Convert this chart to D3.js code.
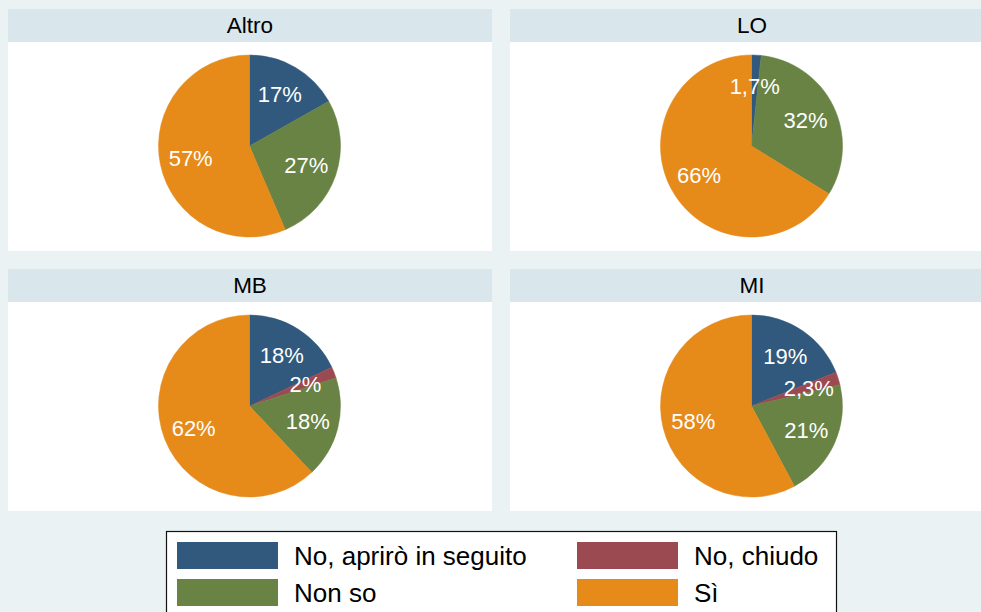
<!DOCTYPE html>
<html>
<head>
<meta charset="utf-8">
<script src="https://cdn.jsdelivr.net/npm/d3@7"></script>
<style>
  html, body { margin: 0; padding: 0; background: #EAF2F3; }
  svg { display: block; font-family: "Liberation Sans", Arial, Helvetica, sans-serif; }
</style>
</head>
<body>
<svg id="chart" width="981" height="612"></svg>
<script>
// Answer categories, in slice order (clockwise from 12 o'clock)
const categories = ["No, aprirò in seguito", "No, chiudo", "Non so", "Sì"];
const colors = ["#31597D", "#9C4A51", "#688344", "#E68A1A"];

// One panel per area
const panels = ["Altro", "LO", "MB", "MI"];

// Percentages per area, same order as categories
const altro = [17, 0, 27, 57];
const lo    = [1.7, 0, 32, 66];
const mb    = [18, 2, 18, 62];
const mi    = [19, 2.3, 21, 58];
const seriesValues = [altro, lo, mb, mi];

const W = 981, H = 612;
const svg = d3.select("#chart");

svg.append("rect").attr("width", W).attr("height", H).attr("fill", "#EAF2F3");

// Panel grid
const col = d3.scaleOrdinal().domain([0, 1]).range([8, 510]);
const row = d3.scaleOrdinal().domain([0, 1]).range([9, 269]);
const panelW = 484, stripH = 33, plotH = 209;
const radius = 91;

const color = d3.scaleOrdinal().domain(categories).range(colors);
const pie = d3.pie().sort(null).value(d => d.value).startAngle(0).endAngle(2 * Math.PI);
const arc = d3.arc().innerRadius(0).outerRadius(radius);
const labelArc = d3.arc().innerRadius(radius * 0.66).outerRadius(radius * 0.66);
const fmt = v => String(v).replace(".", ",") + "%";

panels.forEach((name, i) => {
  const x0 = col(i % 2), y0 = row(Math.floor(i / 2));
  const g = svg.append("g").attr("transform", `translate(${x0},${y0})`);

  // title strip
  g.append("rect").attr("width", panelW).attr("height", stripH).attr("fill", "#D9E6EB");
  g.append("text")
    .attr("x", panelW / 2).attr("y", 24)
    .attr("text-anchor", "middle")
    .attr("font-size", 22.5).attr("fill", "#000")
    .text(name);

  // plot area
  g.append("rect").attr("y", stripH).attr("width", panelW).attr("height", plotH).attr("fill", "#FFFFFF");

  const data = categories.map((c, k) => ({ cat: c, value: seriesValues[i][k] }));
  const arcs = pie(data);
  const pg = g.append("g").attr("transform", `translate(${panelW / 2 - 0.5},${stripH + 104})`);

  pg.selectAll("path").data(arcs.filter(a => a.data.value > 0)).join("path")
    .attr("d", arc)
    .attr("fill", d => color(d.data.cat))
    .attr("stroke", d => color(d.data.cat))
    .attr("stroke-width", 0.5);

  pg.selectAll("text").data(arcs.filter(a => a.data.value > 0)).join("text")
    .attr("transform", d => `translate(${labelArc.centroid(d)})`)
    .attr("text-anchor", "middle")
    .attr("dy", "0.36em")
    .attr("font-size", 22)
    .attr("fill", "#FFFFFF")
    .text(d => fmt(d.data.value));
});

// Legend
const lg = svg.append("g").attr("transform", "translate(166,531)");
lg.append("rect")
  .attr("x", 0.5).attr("y", 0.5).attr("width", 670).attr("height", 100)
  .attr("fill", "#FFFFFF").attr("stroke", "#111").attr("stroke-width", 1.2);

const legCol = d3.scaleOrdinal().domain([0, 1]).range([11, 411]);
const legRow = d3.scaleOrdinal().domain([0, 1]).range([11, 48]);
categories.forEach((c, k) => {
  const lx = legCol(k % 2), ly = legRow(Math.floor(k / 2));
  lg.append("rect")
    .attr("x", lx).attr("y", ly).attr("width", 101).attr("height", 27)
    .attr("fill", color(c));
  lg.append("text")
    .attr("x", lx + 117).attr("y", ly + 23)
    .attr("font-size", 26).attr("fill", "#000")
    .text(c);
});
</script>
</body>
</html>
